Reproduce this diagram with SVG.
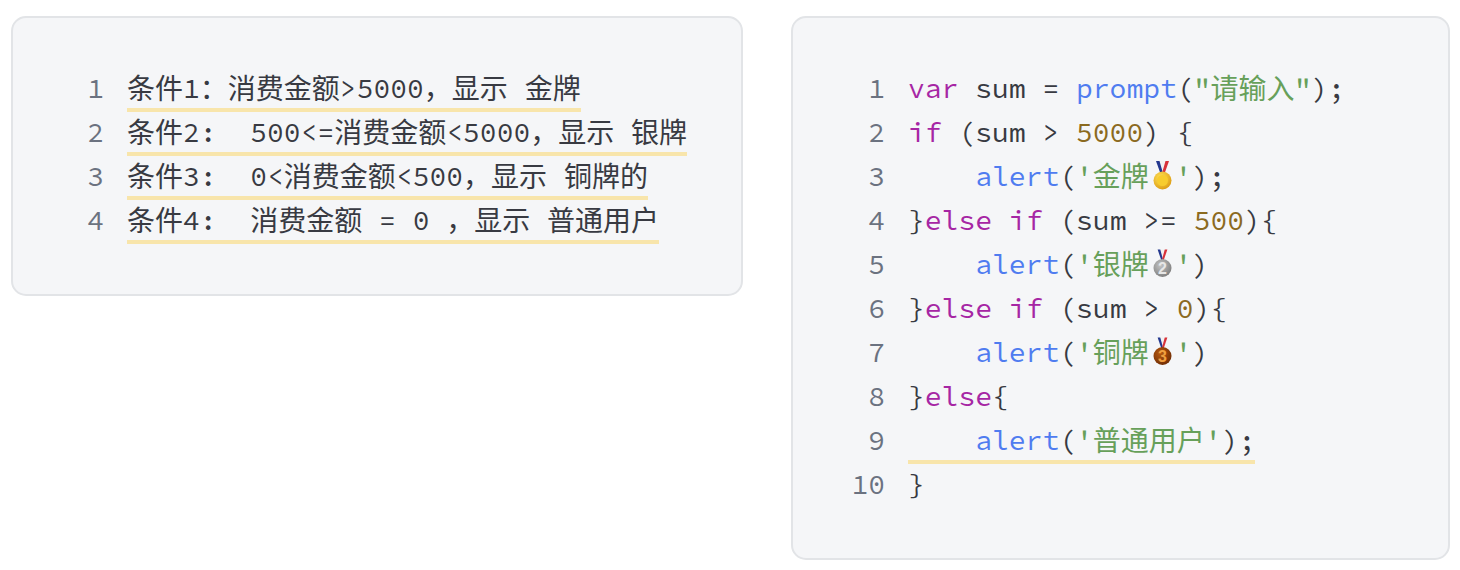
<svg xmlns="http://www.w3.org/2000/svg" width="1460" height="570" viewBox="0 0 1460 570">
<style>
text{font-family:"Source Code Pro","Liberation Mono","Noto Sans CJK SC",monospace;font-size:28px;fill:#383a42;white-space:pre}
.n{fill:#6b7280;text-anchor:end}
.k{fill:#a626a4}.f{fill:#4f7cf0}.s{fill:#67a05a}.d{fill:#8b6a1f}
.c{baseline-shift:-1px}
.p{fill:#f5f6f8;stroke:#e2e4e7;stroke-width:2}
.u{fill:#f8e5ab}
text.m{font-family:"Liberation Sans",sans-serif;font-size:16px;font-weight:bold;text-anchor:middle}
</style>
<defs>
<radialGradient id="gold" cx="0.4" cy="0.35" r="0.7"><stop offset="0" stop-color="#ffe45c"/><stop offset="1" stop-color="#dc9a10"/></radialGradient>
<radialGradient id="silver" cx="0.4" cy="0.35" r="0.7"><stop offset="0" stop-color="#c4c4c4"/><stop offset="1" stop-color="#7c7c7c"/></radialGradient>
<radialGradient id="bronze" cx="0.4" cy="0.35" r="0.7"><stop offset="0" stop-color="#b8590f"/><stop offset="1" stop-color="#6e2c05"/></radialGradient>
<g id="ribbon"><path d="M-6.500 -19.500h13l-4.500 14h-4z" fill="#f2f2f2"/><path d="M-6.500 -19.500h3.500l4 14h-2.500z" fill="#24388f"/><path d="M6.500 -19.500h-3.500l-4 14h2.500z" fill="#d8323a"/></g>
</defs>
<g id="panel-left">
<rect class="p" x="12" y="17" width="730" height="278" rx="14"/>
<rect class="u" x="127" y="108" width="454" height="4"/>
<rect class="u" x="127" y="152" width="560" height="4"/>
<rect class="u" x="127" y="196" width="521" height="4"/>
<rect class="u" x="127" y="240" width="532" height="4"/>
<text class="n" x="104" y="98">1</text>
<text class="n" x="104" y="142">2</text>
<text class="n" x="104" y="186">3</text>
<text class="n" x="104" y="230">4</text>
<text x="127" y="98"><tspan class="c">条件</tspan>1<tspan class="c">：消费金额</tspan>&gt;5000<tspan class="c">，显示</tspan> <tspan class="c">金牌</tspan></text>
<text x="127" y="142"><tspan class="c">条件</tspan>2:  500&lt;=<tspan class="c">消费金额</tspan>&lt;5000<tspan class="c">，显示</tspan> <tspan class="c">银牌</tspan></text>
<text x="127" y="186"><tspan class="c">条件</tspan>3:  0&lt;<tspan class="c">消费金额</tspan>&lt;500<tspan class="c">，显示</tspan> <tspan class="c">铜牌的</tspan></text>
<text x="127" y="230"><tspan class="c">条件</tspan>4:  <tspan class="c">消费金额</tspan> = 0 <tspan class="c">，显示</tspan> <tspan class="c">普通用户</tspan></text>
</g>
<g id="panel-right">
<rect class="p" x="792" y="17" width="657" height="542" rx="14"/>
<rect class="u" x="908" y="460" width="347" height="4"/>
<text class="n" x="885" y="98">1</text>
<text class="n" x="885" y="142">2</text>
<text class="n" x="885" y="186">3</text>
<text class="n" x="885" y="230">4</text>
<text class="n" x="885" y="274">5</text>
<text class="n" x="885" y="318">6</text>
<text class="n" x="885" y="362">7</text>
<text class="n" x="885" y="406">8</text>
<text class="n" x="885" y="450">9</text>
<text class="n" x="885" y="494">10</text>
<text x="908" y="98"><tspan class="k">var</tspan> sum = <tspan class="f">prompt</tspan>(<tspan class="s">"<tspan class="c">请输入</tspan>"</tspan>);</text>
<text x="908" y="142"><tspan class="k">if</tspan> (sum &gt; <tspan class="d">5000</tspan>) {</text>
<text x="908" y="186">    <tspan class="f">alert</tspan>(<tspan class="s">'<tspan class="c">金牌</tspan></tspan></text>
<text x="1175" y="186"><tspan class="s">'</tspan>);</text>
<text x="908" y="230">}<tspan class="k">else</tspan> <tspan class="k">if</tspan> (sum &gt;= <tspan class="d">500</tspan>){</text>
<text x="908" y="274">    <tspan class="f">alert</tspan>(<tspan class="s">'<tspan class="c">银牌</tspan></tspan></text>
<text x="1175" y="274"><tspan class="s">'</tspan>)</text>
<text x="908" y="318">}<tspan class="k">else</tspan> <tspan class="k">if</tspan> (sum &gt; <tspan class="d">0</tspan>){</text>
<text x="908" y="362">    <tspan class="f">alert</tspan>(<tspan class="s">'<tspan class="c">铜牌</tspan></tspan></text>
<text x="1175" y="362"><tspan class="s">'</tspan>)</text>
<text x="908" y="406">}<tspan class="k">else</tspan>{</text>
<text x="908" y="450">    <tspan class="f">alert</tspan>(<tspan class="s">'<tspan class="c">普通用户</tspan>'</tspan>);</text>
<text x="908" y="494">}</text>
<g id="medal-gold" transform="translate(1162.500 180.500)"><use href="#ribbon"/><circle r="9" fill="url(#gold)"/><circle r="5.500" fill="#f7cc2e"/></g>
<g id="medal-silver" transform="translate(1162.500 268)"><use href="#ribbon" transform="translate(0 -3) scale(.75 .8)"/><circle r="9" fill="url(#silver)"/><text class="m" y="5.500" style="fill:#e6e6e6">2</text></g>
<g id="medal-bronze" transform="translate(1162.500 356)"><use href="#ribbon" transform="translate(0 -3) scale(.75 .8)"/><circle r="9" fill="url(#bronze)"/><text class="m" y="5.500" style="fill:#f0a040">3</text></g>
</g>
</svg>
